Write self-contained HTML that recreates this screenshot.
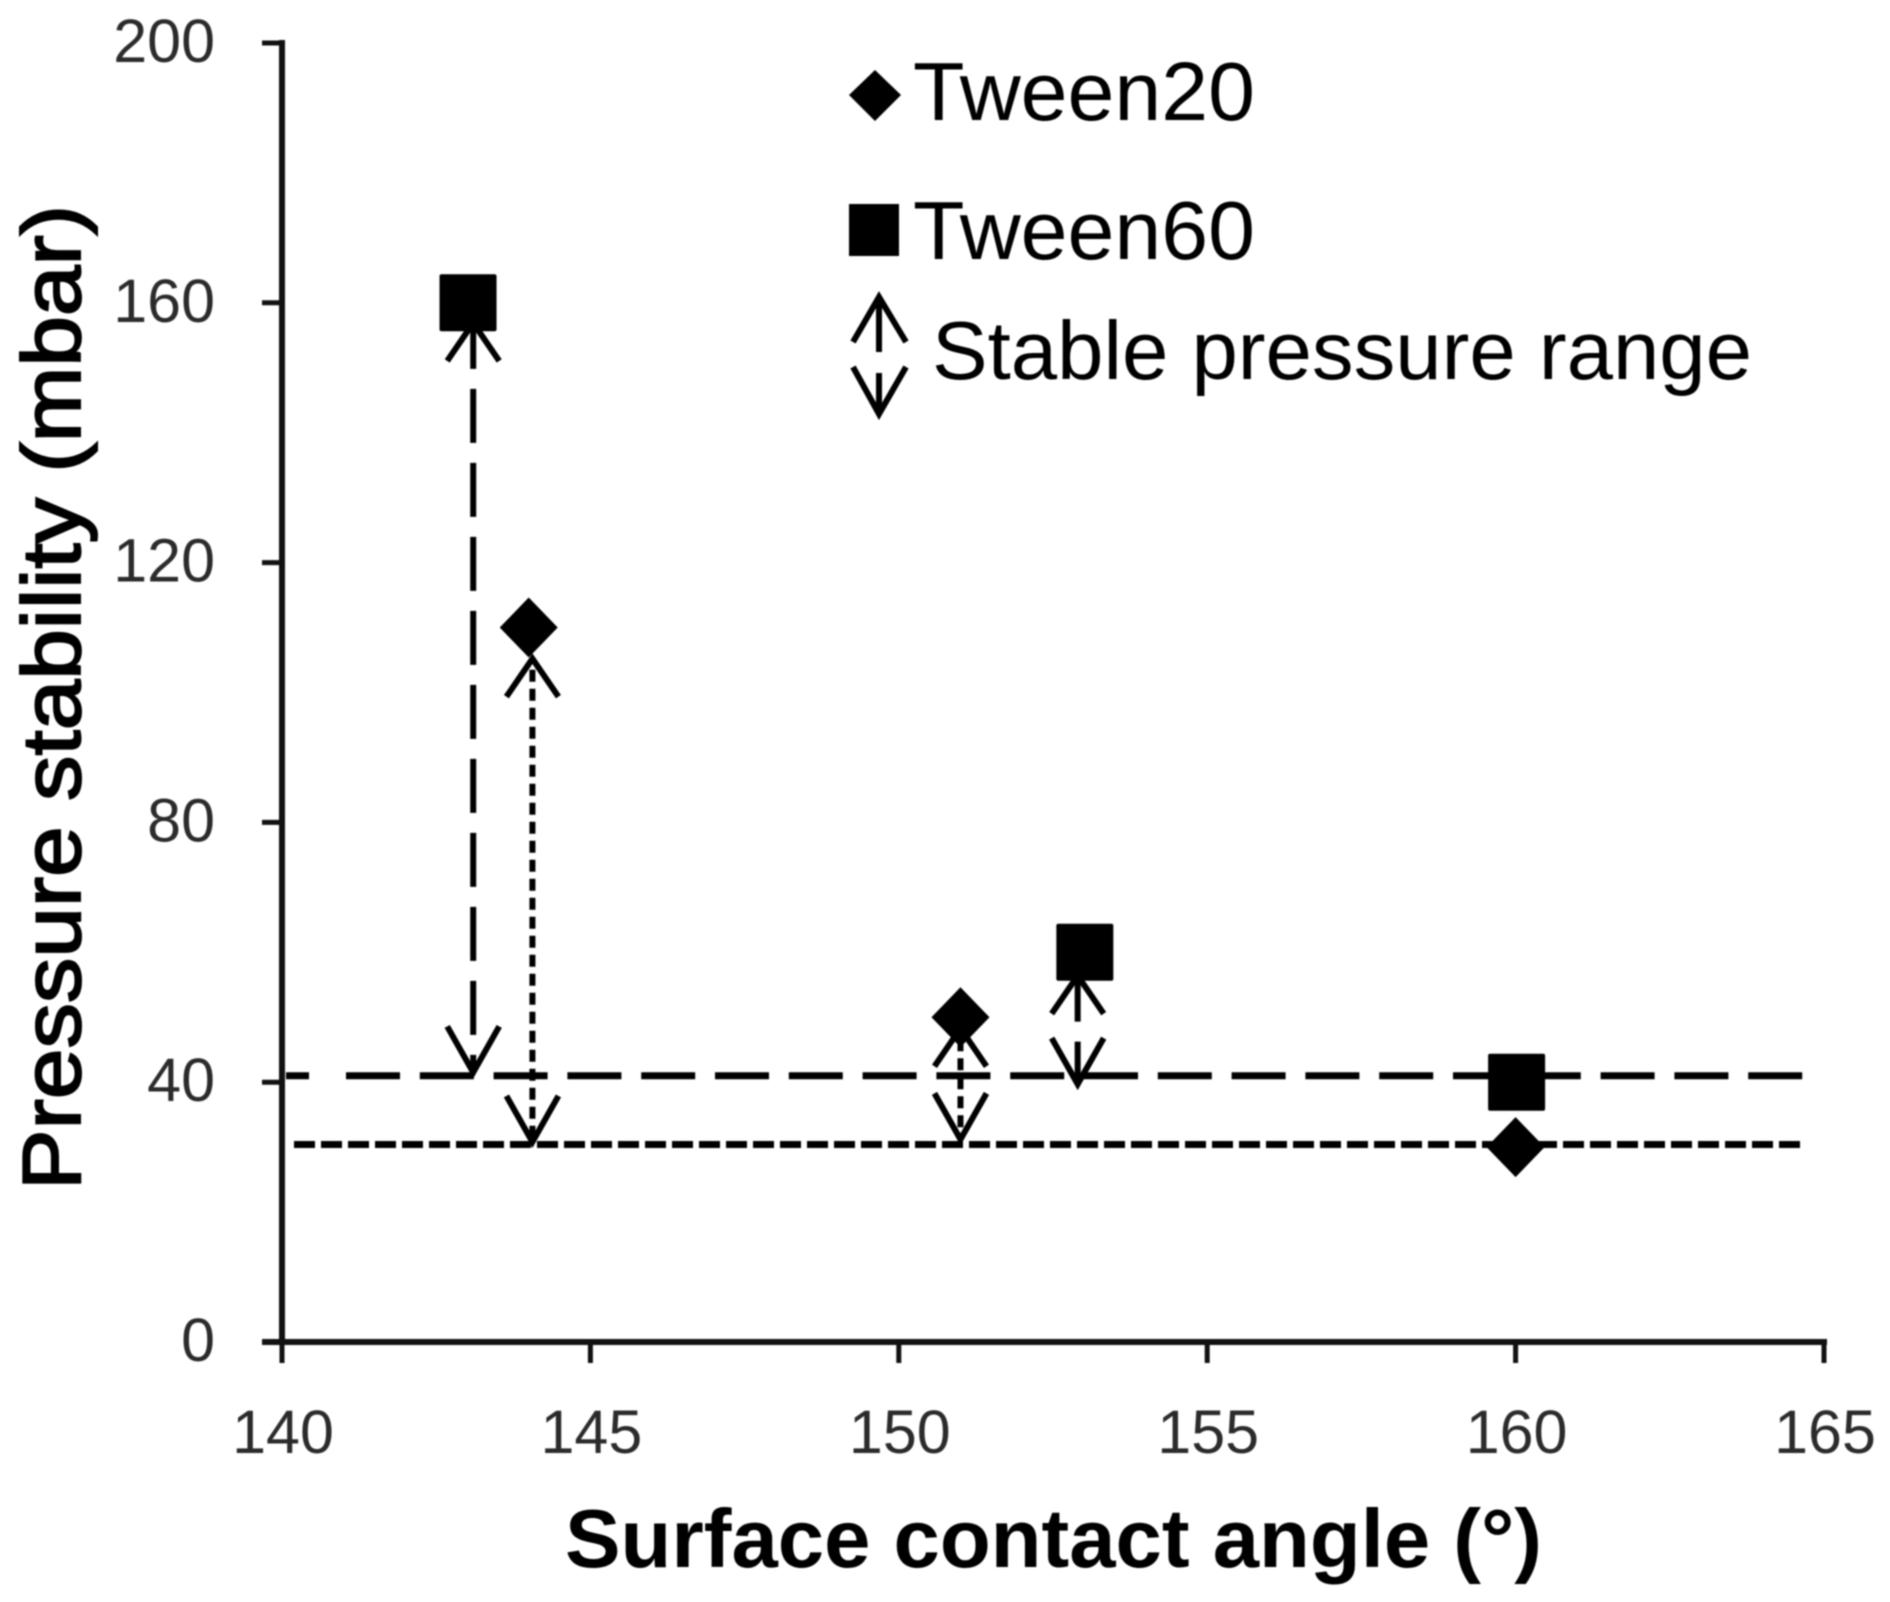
<!DOCTYPE html>
<html lang="en">
<head>
<meta charset="utf-8">
<title>Pressure stability vs surface contact angle</title>
<style>
html,body{margin:0;padding:0;background:#fff;width:1890px;height:1602px;overflow:hidden}
svg{display:block;filter:blur(0.8px)}
text{font-family:"Liberation Sans",Arial,sans-serif}
.tick-label{font-size:61px;fill:#2b2b2b}
.axis-title{font-size:83px;font-weight:bold;fill:#000}
.y-title{font-size:83px;fill:#000;stroke:#000;stroke-width:2px}
.legend-text{font-size:83px;fill:#000}
</style>
</head>
<body>
<svg id="chart" xmlns="http://www.w3.org/2000/svg" width="1890" height="1602" viewBox="0 0 1890 1602">
  <rect width="1890" height="1602" fill="#fff"/>
  <g id="axes"></g>
  <g id="guides"></g>
  <g id="ranges"></g>
  <g id="points"></g>
  <text class="axis-title" x="565" y="1567" textLength="977" lengthAdjust="spacingAndGlyphs">Surface contact angle (°)</text>
  <text class="y-title" transform="translate(80,1190) rotate(-90)" textLength="985" lengthAdjust="spacingAndGlyphs">Pressure stability (mbar)</text>
  <g>
    <polygon points="875,70 901,95 875,121 849,95" fill="#000"/>
    <text class="legend-text" x="913" y="120" textLength="342" lengthAdjust="spacingAndGlyphs">Tween20</text>
    <rect x="849" y="204" width="50" height="52" fill="#000"/>
    <text class="legend-text" x="913" y="259" textLength="342" lengthAdjust="spacingAndGlyphs">Tween60</text>
    <g fill="none" stroke="#000" stroke-width="6">
      <path d="M879 352V297M853 342L879 297L906 342"/>
      <path d="M879 373V414M853 367L879 414L906 367"/>
    </g>
    <text class="legend-text" x="932" y="379" textLength="820" lengthAdjust="spacingAndGlyphs">Stable pressure range</text>
  </g>
</svg>
<script>
const xTicks = [140, 145, 150, 155, 160, 165];
const yTicks = [0, 40, 80, 120, 160, 200];

const tween20Angles = [144, 151, 160];
const tween20Values = [110, 50, 30];
const tween60Angles = [143, 153, 160];
const tween60Values = [160, 60, 40];

const tween60Threshold = 41;
const tween20Threshold = 30.4;

const tween60RangeAngles = [143.1, 152.9];
const tween60RangeTops = [156.9, 56.4];
const tween60RangeBottoms = [41.5, 39.7];

const tween20RangeAngles = [144.06, 151];
const tween20RangeTops = [105.2, 48.3];
const tween20RangeBottoms = [30.8, 31.2];

const xScale = v => 282 + (v - 140) * (1824 - 282) / 25;
const yScale = v => 1342 - v * (1342 - 43) / 200;

const NS = 'http://www.w3.org/2000/svg';
function make(tag, parent, attrs) {
  const el = document.createElementNS(NS, tag);
  Object.keys(attrs).forEach(k => el.setAttribute(k, attrs[k]));
  parent.appendChild(el);
  return el;
}

const axes = document.getElementById('axes');
const guides = document.getElementById('guides');
const ranges = document.getElementById('ranges');
const points = document.getElementById('points');

const yAxis = make('line', axes, {x1: xScale(140), x2: xScale(140), y1: yScale(200) - 3, y2: yScale(0), stroke: '#111', 'stroke-width': 6});


const xAxis = make('line', axes, {x1: 262, x2: xScale(165) + 3, y1: yScale(0), y2: yScale(0), stroke: '#111', 'stroke-width': 6});



yTicks.forEach(t => {
  const mark = make('line', axes, {x1: 262, x2: xScale(140), y1: yScale(t), y2: yScale(t), stroke: '#111', 'stroke-width': 5});
  
  
  const label = make('text', axes, {x: 215, y: yScale(t) + 19, 'text-anchor': 'end', class: 'tick-label'});
  label.textContent = t;
  
  
});

xTicks.forEach(t => {
  const mark = make('line', axes, {x1: xScale(t), x2: xScale(t), y1: yScale(0), y2: yScale(0) + 21, stroke: '#111', 'stroke-width': 5});
  
  
  const label = make('text', axes, {x: xScale(t) + 1, y: 1453, 'text-anchor': 'middle', class: 'tick-label'});
  label.textContent = t;
  
  
});

const longStub = make('line', guides, {x1: 286, x2: 309, y1: yScale(tween60Threshold), y2: yScale(tween60Threshold), stroke: '#000', 'stroke-width': 7});


const longLine = make('line', guides, {x1: 346, x2: 1803, y1: yScale(tween60Threshold), y2: yScale(tween60Threshold), stroke: '#000', 'stroke-width': 7, 'stroke-dasharray': '54 19.8'});


const shortLine = make('line', guides, {x1: 290, x2: 1800, y1: yScale(tween20Threshold), y2: yScale(tween20Threshold), stroke: '#000', 'stroke-width': 7, 'stroke-dasharray': '21 6', 'stroke-dashoffset': 23});



function drawRange(parent, angle, top, bottom, dash) {
  const x = xScale(angle);
  const yt = yScale(top);
  const yb = yScale(bottom);
  const g = make('g', parent, {fill: 'none', stroke: '#000', 'stroke-width': 6});
  make('line', g, {x1: x, x2: x, y1: yt, y2: yb, 'stroke-dasharray': dash, 'stroke-dashoffset': 8});
  make('path', g, {d: 'M' + (x - 26) + ' ' + (yt + 38) + 'L' + x + ' ' + yt + 'L' + (x + 26) + ' ' + (yt + 38)});
  make('path', g, {d: 'M' + (x - 26) + ' ' + (yb - 46) + 'L' + x + ' ' + yb + 'L' + (x + 26) + ' ' + (yb - 46)});
  return g;
}

tween60RangeAngles.forEach((a, i) => {
  const g = drawRange(ranges, a, tween60RangeTops[i], tween60RangeBottoms[i], '54 20');
  
  
});
tween20RangeAngles.forEach((a, i) => {
  const g = drawRange(ranges, a, tween20RangeTops[i], tween20RangeBottoms[i], '12 7');
  
  
});

tween20Angles.forEach((a, i) => {
  const cx = xScale(a);
  const cy = yScale(tween20Values[i]);
  const d = make('polygon', points, {points: cx + ',' + (cy - 30) + ' ' + (cx + 29) + ',' + cy + ' ' + cx + ',' + (cy + 30) + ' ' + (cx - 29) + ',' + cy, fill: '#000'});
  
  
});
tween60Angles.forEach((a, i) => {
  const s = make('rect', points, {x: xScale(a) - 27.5, y: yScale(tween60Values[i]) - 28.5, width: 57, height: 57, rx: 2, fill: '#000'});
  
  
});
</script>
</body>
</html>
